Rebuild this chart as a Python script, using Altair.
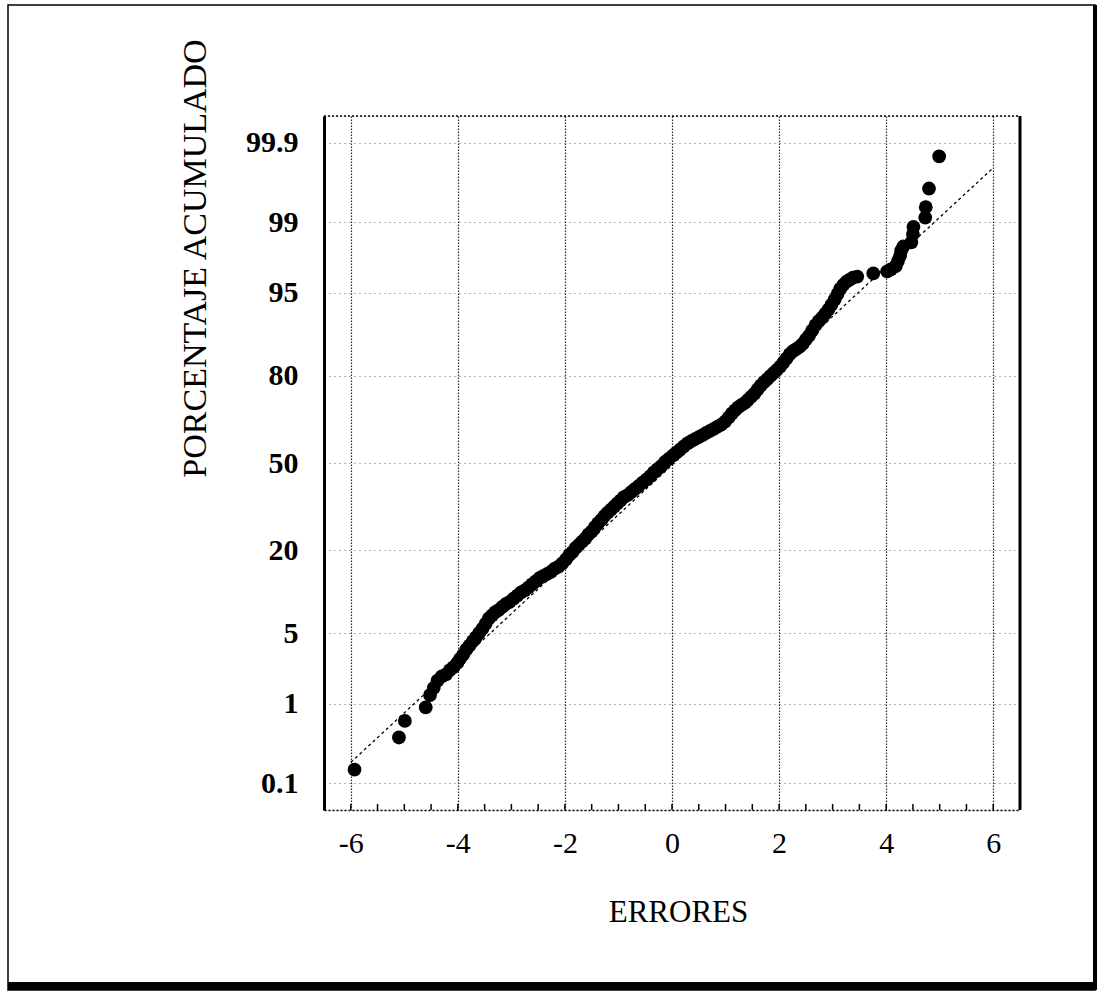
import altair as alt
import pandas as pd
from statistics import NormalDist

# ---- data ----
errores = [
    -5.93, -5.10, -4.99, -4.60, -4.52, -4.45, -4.38, -4.30, -4.22, -4.15,
    -4.08, -4.01, -3.96, -3.90, -3.84, -3.78, -3.72, -3.66, -3.60, -3.54,
    -3.48, -3.42, -3.36, -3.30, -3.24, -3.17, -3.10, -3.03, -2.96, -2.89,
    -2.82, -2.75, -2.68, -2.61, -2.54, -2.47, -2.40, -2.33, -2.26, -2.19,
    -2.12, -2.05, -1.98, -1.92, -1.86, -1.80, -1.74, -1.68, -1.62, -1.56,
    -1.50, -1.44, -1.38, -1.32, -1.26, -1.20, -1.14, -1.08, -1.02, -0.96,
    -0.90, -0.83, -0.76, -0.69, -0.62, -0.55, -0.48, -0.41, -0.34, -0.27,
    -0.20, -0.13, -0.06, 0.01, 0.08, 0.15, 0.22, 0.29, 0.36, 0.43,
    0.50, 0.57, 0.64, 0.71, 0.78, 0.85, 0.92, 0.99, 1.06, 1.12,
    1.18, 1.24, 1.30, 1.36, 1.42, 1.48, 1.54, 1.60, 1.66, 1.72,
    1.78, 1.84, 1.90, 1.96, 2.02, 2.08, 2.14, 2.20, 2.26, 2.32,
    2.38, 2.44, 2.50, 2.56, 2.62, 2.68, 2.74, 2.80, 2.86, 2.92,
    2.98, 3.04, 3.09, 3.14, 3.20, 3.26, 3.32, 3.38, 3.46, 3.76,
    4.02, 4.09, 4.18, 4.22, 4.26, 4.28, 4.32, 4.47, 4.50, 4.51,
    4.73, 4.74, 4.80, 4.99,
]
cuantil_normal = [
    -2.96, -2.65, -2.49, -2.36, -2.24, -2.17, -2.10, -2.06, -2.04, -2.00,
    -1.97, -1.93, -1.89, -1.85, -1.80, -1.76, -1.72, -1.68, -1.64, -1.60,
    -1.55, -1.50, -1.47, -1.44, -1.42, -1.39, -1.36, -1.34, -1.31, -1.28,
    -1.25, -1.23, -1.20, -1.17, -1.14, -1.11, -1.09, -1.07, -1.05, -1.02,
    -1.00, -0.97, -0.93, -0.89, -0.86, -0.82, -0.79, -0.76, -0.73, -0.69,
    -0.66, -0.62, -0.58, -0.55, -0.51, -0.48, -0.45, -0.42, -0.39, -0.36,
    -0.33, -0.31, -0.28, -0.25, -0.22, -0.19, -0.16, -0.13, -0.09, -0.06,
    -0.03, 0.01, 0.04, 0.07, 0.10, 0.13, 0.16, 0.19, 0.21, 0.23,
    0.25, 0.27, 0.29, 0.31, 0.33, 0.35, 0.37, 0.40, 0.44, 0.48,
    0.51, 0.54, 0.56, 0.58, 0.61, 0.64, 0.67, 0.71, 0.75, 0.78,
    0.81, 0.84, 0.87, 0.90, 0.93, 0.97, 1.01, 1.05, 1.08, 1.10,
    1.12, 1.15, 1.19, 1.23, 1.28, 1.33, 1.37, 1.40, 1.44, 1.48,
    1.53, 1.58, 1.63, 1.68, 1.72, 1.75, 1.77, 1.79, 1.80, 1.83,
    1.85, 1.87, 1.90, 1.95, 2.00, 2.05, 2.09, 2.13, 2.21, 2.28,
    2.37, 2.47, 2.65, 2.96,
]
linea_x = [-6.0, 6.0]
linea_z = [-2.89, 2.85]

pct_ticks = [0.1, 1, 5, 20, 50, 80, 95, 99, 99.9]
pct_labels = ["0.1", "1", "5", "20", "50", "80", "95", "99", "99.9"]
x_ticks = [-6, -4, -2, 0, 2, 4, 6]
x_minor = [-6, -5.5, -5, -4.5, -4, -3.5, -3, -2.5, -2, -1.5, -1, -0.5, 0,
           0.5, 1, 1.5, 2, 2.5, 3, 3.5, 4, 4.5, 5, 5.5, 6]

# ---- derived tables ----
z_ticks = [NormalDist().inv_cdf(p / 100) for p in pct_ticks]
label_expr = "''"
for z, lab in zip(z_ticks, pct_labels):
    label_expr = f"abs(datum.value - ({z:.5f})) < 0.001 ? '{lab}' : ({label_expr})"

pts = pd.DataFrame({"error": errores, "z": cuantil_normal})
line_df = pd.DataFrame({"error": linea_x, "z": linea_z})
minor_df = pd.DataFrame({"error": x_minor})

W, H = 696, 694
FONT = "Liberation Serif"

xscale = alt.Scale(domain=[-6.5, 6.5], nice=False, zero=False)
yscale = alt.Scale(domain=[-3.35, 3.35], nice=False, zero=False)

x_axis = alt.Axis(
    values=x_ticks, labelExpr="'' + datum.value",
    grid=True, gridDash=[1.5, 1.5], gridColor="black", gridOpacity=0.85,
    gridWidth=1.2, domain=True, domainDash=[2, 2], domainColor="black", domainWidth=1.5,
    ticks=False, labelFont=FONT, labelFontSize=30, labelColor="black", labelPadding=18,
    labelFlush=False,
    title="ERRORES", titleFont=FONT, titleFontSize=31, titleFontWeight="normal",
    titleColor="black", titleX=354, titleY=102, titleBaseline="middle", titleAlign="center",
)
y_axis = alt.Axis(
    values=z_ticks, labelExpr=label_expr, grid=True, gridDash=[1, 4], gridColor="black",
    gridOpacity=0.6, gridWidth=1, domain=True, domainColor="black", domainWidth=3,
    ticks=False, labelFont=FONT, labelFontSize=30, labelFontWeight="bold",
    labelColor="black", labelPadding=26, labelFlush=False,
    title="PORCENTAJE ACUMULADO", titleFont=FONT, titleFontSize=34,
    titleFontWeight="normal", titleColor="black", titleAngle=270,
    titleX=-129, titleY=142, titleAlign="center", titleBaseline="middle",
)

X = alt.X("error:Q", scale=xscale, axis=x_axis, title="ERRORES")
Y = alt.Y("z:Q", scale=yscale, axis=y_axis, title="PORCENTAJE ACUMULADO")

one = pd.DataFrame({"a": [0]})

# decorative frame of the figure
frame = alt.Chart(one).mark_rect(
    fill=None, stroke="black", strokeWidth=1.5
).encode(x=alt.value(-316), x2=alt.value(771), y=alt.value(-111), y2=alt.value(874))
frame_bottom = alt.Chart(one).mark_rule(
    color="black", strokeWidth=8
).encode(x=alt.value(-316), x2=alt.value(773), y=alt.value(870))
frame_right = alt.Chart(one).mark_rule(
    color="black", strokeWidth=4
).encode(x=alt.value(771), y=alt.value(-111), y2=alt.value(874))

# plot borders (top dotted, right solid)
top_border = alt.Chart(one).mark_rule(
    color="black", strokeWidth=1.5, strokeDash=[2, 2]
).encode(x=alt.value(0), x2=alt.value(W), y=alt.value(0))
right_border = alt.Chart(one).mark_rule(
    color="black", strokeWidth=3
).encode(x=alt.value(W), y=alt.value(0), y2=alt.value(H))

points = alt.Chart(pts).mark_circle(size=190, color="black", opacity=1).encode(x=X, y=Y)
fit_line = alt.Chart(line_df).mark_line(
    color="black", strokeWidth=1.3, strokeDash=[3, 3]
).encode(x=X, y=Y)
minor_ticks = alt.Chart(minor_df).mark_rule(color="black", strokeWidth=1.5).encode(
    x=X, y=alt.value(H), y2=alt.value(H - 6),
)

chart = alt.layer(
    points, fit_line, minor_ticks, top_border, right_border,
    frame, frame_bottom, frame_right,
).properties(
    width=W, height=H,
    autosize=alt.AutoSizeParams(type="none"),
    padding={"left": 324, "top": 116, "right": 80, "bottom": 188},
).configure_view(stroke=None).configure(background="white")

chart.save("out.html", embed_options={"renderer": "svg", "actions": False})
